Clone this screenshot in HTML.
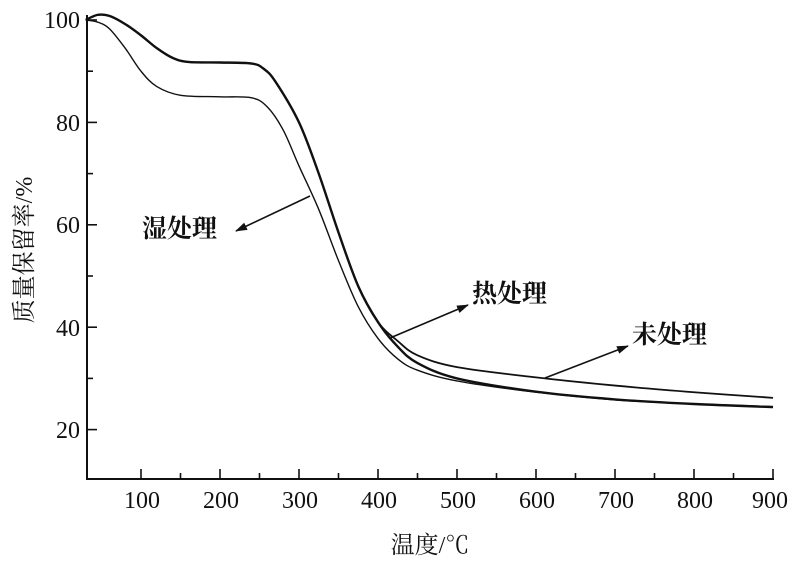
<!DOCTYPE html>
<html><head><meta charset="utf-8"><style>
html,body{margin:0;padding:0;background:#fff}
svg{display:block}
text{font-family:"Liberation Serif","Noto Serif CJK SC",serif;fill:#111}
</style></head><body>
<svg id="s" width="800" height="569" xmlns="http://www.w3.org/2000/svg">
<defs><marker id="a" markerWidth="12" markerHeight="8" refX="11" refY="4" orient="auto" markerUnits="userSpaceOnUse"><path d="M0,0 L12,4 L0,8 z" fill="#111"/></marker></defs>
<g stroke="#111" stroke-width="2" fill="none">
<line x1="87" y1="15" x2="87" y2="479"/>
<line x1="86" y1="479" x2="774" y2="479"/>
</g>
<g id="ticks" stroke="#111" stroke-width="1.6"></g>
<g font-size="24">
<text x="80" y="28" text-anchor="end">100</text>
<text x="80" y="131" text-anchor="end">80</text>
<text x="80" y="233" text-anchor="end">60</text>
<text x="80" y="336" text-anchor="end">40</text>
<text x="80" y="438" text-anchor="end">20</text>
<text x="142" y="508" text-anchor="middle">100</text>
<text x="221" y="508" text-anchor="middle">200</text>
<text x="300" y="508" text-anchor="middle">300</text>
<text x="379" y="508" text-anchor="middle">400</text>
<text x="458" y="508" text-anchor="middle">500</text>
<text x="537" y="508" text-anchor="middle">600</text>
<text x="616" y="508" text-anchor="middle">700</text>
<text x="695" y="508" text-anchor="middle">800</text>
<text x="770" y="508" text-anchor="middle">900</text>
</g>
<text x="430" y="553" font-size="24" text-anchor="middle">温度/℃</text>
<text transform="translate(32,250) rotate(-90)" font-size="24" text-anchor="middle">质量保留率/%</text>
<g id="curves" fill="none" stroke="#111"></g>
<g stroke="#111" stroke-width="1.6" marker-end="url(#a)">
<line x1="310" y1="196" x2="236" y2="231"/>
<line x1="390" y1="338" x2="468" y2="305"/>
<line x1="545" y1="378" x2="628" y2="346"/>
</g>
<g font-size="25" font-weight="bold">
<text x="142" y="237">湿处理</text>
<text x="472" y="302">热处理</text>
<text x="632" y="343">未处理</text>
</g>
</svg>
<script>
(function(){
var X=function(v){return 773-(900-v)*0.79;}, Y=function(v){return 20+(100-v)*5.12;};
var t=document.getElementById('ticks'),h='';
for(var v=100;v<=900;v+=50){var x=X(v),L=(v%100==0)?10:6;h+='<line x1="'+x+'" y1="479" x2="'+x+'" y2="'+(479-L)+'"/>';}
for(var v=20;v<=100;v+=10){var y=Y(v),L=(v%20==0)?10:6;h+='<line x1="87" y1="'+y+'" x2="'+(87+L)+'" y2="'+y+'"/>';}
t.innerHTML=h;
function path(d){var p=d.map(function(q){return [X(q[0]),Y(q[1])];});var s='M'+p[0][0]+','+p[0][1];for(var i=0;i<p.length-1;i++){var p0=p[i-1]||p[i],p1=p[i],p2=p[i+1],p3=p[i+2]||p2;var c1=[p1[0]+(p2[0]-p0[0])/6,p1[1]+(p2[1]-p0[1])/6],c2=[p2[0]-(p3[0]-p1[0])/6,p2[1]-(p3[1]-p1[1])/6];s+=' C'+c1[0]+','+c1[1]+' '+c2[0]+','+c2[1]+' '+p2[0]+','+p2[1];}return s;}
var upper=[[30,100],[45,101],[60,100.8],[80,99.2],[100,97],[120,94.5],[140,92.6],[160,91.8],[200,91.7],[240,91.5],[255,90.5],[270,88],[300,80],[325,70],[350,58.5],[375,48],[400,41]];
var heat=upper.concat([[425,36.2],[450,33],[500,30],[600,27.4],[700,25.9],[800,25],[900,24.4]]);
var un=upper.concat([[425,37.3],[450,34.5],[500,32.2],[600,30.2],[700,28.6],[800,27.3],[900,26.2]]);
var wet=[[30,100],[45,99.6],[60,98.3],[80,94.5],[100,90],[120,87],[150,85.3],[200,85],[240,84.8],[260,83],[280,78.5],[300,71.5],[325,63],[350,53],[375,44],[400,37.8],[425,33.8],[450,31.6],[500,29.5],[600,27.3],[700,25.8],[800,25],[900,24.5]];
document.getElementById('curves').innerHTML='<path d="'+path(heat)+'" stroke-width="2.4"/><path d="'+path(un)+'" stroke-width="1.8"/><path d="'+path(wet)+'" stroke-width="1.4"/>';
})();
</script>
</body></html>
